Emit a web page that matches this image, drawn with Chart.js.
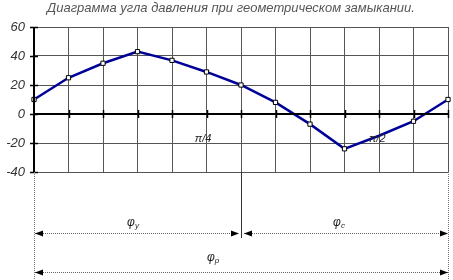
<!DOCTYPE html>
<html>
<head>
<meta charset="utf-8">
<script src="https://cdn.jsdelivr.net/npm/chart.js@4"></script>
<style>
  html, body { margin: 0; padding: 0; background: #fff; }
  #wrap { width: 453px; height: 280px; position: relative; }
</style>
</head>
<body>
<div id="wrap"><canvas id="pressureChart" width="453" height="280"></canvas></div>
<script>
// angle steps (13 positions along the cycle)
const positions = ['0', '1', '2', '3', '4', '5', '6', '7', '8', '9', '10', '11', '12'];
// pressure angle, degrees
const pressureAngle = [10, 25, 35, 43, 37, 29, 20, 8, -7, -24, -15, -5, 10];
const yTicks = [60, 40, 20, 0, -20, -40];
const chartTitle = 'Диаграмма угла давления при геометрическом замыкании.';

// labels on the chart: [position, value, text]
const markLabels = [[4.9, -17, 'π/4'], [9.95, -17, 'π/2']];

const italic = (size) => 'italic ' + size + 'px "Liberation Sans", Arial, sans-serif';

// draws title, zero axis, angle arrows under the plot
const extras = {
    id: 'extras',
    afterDraw(chart) {
        const ctx = chart.ctx;
        const x = chart.scales.x;
        const y = chart.scales.y;
        const area = chart.chartArea;

        ctx.save();
        // title
        ctx.fillStyle = '#555';
        ctx.font = italic(13);
        ctx.textAlign = 'center';
        ctx.textBaseline = 'middle';
        ctx.fillText(chartTitle, 231, 8);

        // zero line with tick marks
        const y0 = y.getPixelForValue(0);
        ctx.strokeStyle = '#000';
        ctx.lineWidth = 2;
        ctx.beginPath();
        ctx.moveTo(area.left, y0);
        ctx.lineTo(area.right, y0);
        ctx.stroke();
        ctx.lineWidth = 1.5;
        for (let i = 1; i < positions.length; i++) {
            const px = Math.round(x.getPixelForValue(i)) + 0.5;
            ctx.beginPath();
            ctx.moveTo(px, y0 - 4);
            ctx.lineTo(px, y0 + 4);
            ctx.stroke();
        }

        // y axis with outside ticks
        ctx.lineWidth = 2;
        ctx.beginPath();
        ctx.moveTo(area.left, area.top);
        ctx.lineTo(area.left, area.bottom);
        ctx.stroke();
        ctx.lineWidth = 1.5;
        yTicks.forEach(v => {
            const py = Math.round(y.getPixelForValue(v)) + 0.5;
            ctx.beginPath();
            ctx.moveTo(area.left - 4, py);
            ctx.lineTo(area.left + 4, py);
            ctx.stroke();
        });

        // pi labels
        ctx.fillStyle = '#222';
        ctx.font = italic(11);
        markLabels.forEach(m => {
            ctx.fillText(m[2], x.getPixelForValue(m[0]), y.getPixelForValue(m[1]));
        });

        // lines below the plot
        const xl = x.getPixelForValue(0);
        const xm = x.getPixelForValue(6);
        const xr = x.getPixelForValue(12);
        ctx.strokeStyle = '#777';
        ctx.lineWidth = 1;
        ctx.setLineDash([1, 1]);
        ctx.beginPath();
        ctx.moveTo(xl + 0.5, area.bottom);
        ctx.lineTo(xl + 0.5, 280);
        ctx.moveTo(xr + 0.5, area.bottom);
        ctx.lineTo(xr + 0.5, 280);
        ctx.stroke();
        ctx.setLineDash([]);
        ctx.strokeStyle = '#333';
        ctx.beginPath();
        ctx.moveTo(xm + 0.5, area.bottom);
        ctx.lineTo(xm + 0.5, 238);
        ctx.stroke();

        const arrow = (x1, x2, yy) => {
            ctx.strokeStyle = '#666';
            ctx.lineWidth = 1;
            ctx.setLineDash([1, 1]);
            ctx.beginPath();
            ctx.moveTo(x1, yy + 0.5);
            ctx.lineTo(x2, yy + 0.5);
            ctx.stroke();
            ctx.setLineDash([]);
            ctx.fillStyle = '#000';
            ctx.beginPath();
            ctx.moveTo(x1, yy + 0.5);
            ctx.lineTo(x1 + 8, yy - 2.5);
            ctx.lineTo(x1 + 8, yy + 3.5);
            ctx.closePath();
            ctx.fill();
            ctx.beginPath();
            ctx.moveTo(x2, yy + 0.5);
            ctx.lineTo(x2 - 8, yy - 2.5);
            ctx.lineTo(x2 - 8, yy + 3.5);
            ctx.closePath();
            ctx.fill();
        };
        arrow(xl + 1, xm - 2, 233);
        arrow(xm + 3, xr, 233);
        arrow(xl + 1, xr, 272);

        const phi = (px, py, sub) => {
            ctx.fillStyle = '#222';
            ctx.font = italic(12);
            ctx.textAlign = 'center';
            ctx.fillText('φ', px, py);
            ctx.font = italic(8);
            ctx.fillText(sub, px + 6, py + 3);
        };
        phi(131, 223, 'у');
        phi(337, 223, 'с');
        phi(211, 258, 'р');
        ctx.restore();
    }
};

new Chart(document.getElementById('pressureChart'), {
    type: 'line',
    data: {
        labels: positions,
        datasets: [{
            data: pressureAngle,
            borderColor: '#000099',
            borderWidth: 2.5,
            tension: 0,
            pointStyle: 'rect',
            // the marker at position 10 sits under the π/2 label
            pointRadius: (c) => c.dataIndex === 10 ? 0 : 3,
            pointBackgroundColor: '#fff',
            pointBorderColor: '#000',
            pointBorderWidth: 1
        }]
    },
    options: {
        responsive: false,
        animation: false,
        layout: { padding: { top: 27, right: 2, bottom: 108, left: 0 } },
        plugins: {
            legend: { display: false },
            title: { display: false },
            tooltip: { enabled: false }
        },
        scales: {
            x: {
                offset: false,
                grid: { color: '#555', lineWidth: 1, drawTicks: false },
                border: { display: false },
                ticks: { display: false }
            },
            y: {
                min: -40,
                max: 60,
                afterFit: (scale) => { scale.width = 34; },
                afterBuildTicks: (scale) => { scale.ticks = yTicks.map(v => ({ value: v })); },
                grid: { color: '#555', lineWidth: 1, drawTicks: false },
                border: { display: false },
                ticks: {
                    padding: 9,
                    color: '#333',
                    font: { family: '"Liberation Sans", Arial, sans-serif', size: 13, style: 'italic' }
                }
            }
        }
    },
    plugins: [extras]
});
</script>
</body>
</html>
